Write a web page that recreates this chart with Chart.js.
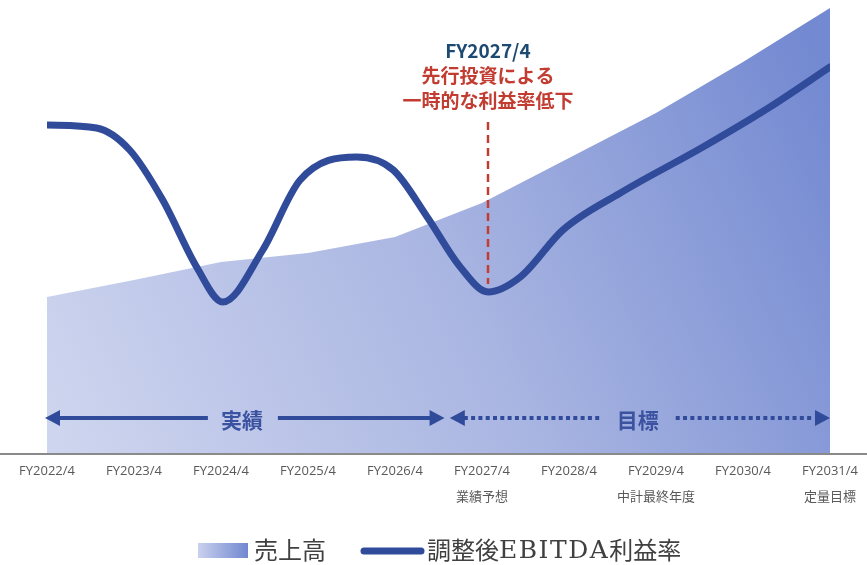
<!DOCTYPE html>
<html>
<head>
<meta charset="utf-8">
<script src="https://cdn.jsdelivr.net/npm/chart.js@4"></script>
<style>
  html, body { margin: 0; padding: 0; background: #fff; }
  #wrap { width: 867px; height: 565px; position: relative; }
</style>
</head>
<body>
<div id="wrap"><canvas id="salesChart" width="867" height="565"></canvas></div>
<script>
// カテゴリ(決算期)
const years = ["FY2022/4", "FY2023/4", "FY2024/4", "FY2025/4", "FY2026/4",
	"FY2027/4", "FY2028/4", "FY2029/4", "FY2030/4", "FY2031/4"];
const subLabels = ["", "", "", "", "", "業績予想", "", "中計最終年度", "", "定量目標"];

// 売上高 (相対値)
const salesValues = [156, 173, 191, 200, 216, 250, 295, 340, 391, 445];

// 調整後EBITDA利益率 (相対値, x = 決算期インデックス)
const marginX = [0, 0.57, 0.95, 1.33, 1.72, 2.02, 2.48, 2.91, 3.56, 3.98,
	4.37, 4.75, 5.07, 5.44, 5.93, 6.59, 7.54, 8.31, 9];
const marginValues = [328, 325, 303, 253, 186, 151, 203, 273, 296, 283,
	236, 186, 161, 176, 223, 260, 306, 346, 386];

const FONT = "'Noto Sans CJK JP', 'Noto Sans', sans-serif";
const BLUE = "#314b9b";
const RED = "#c23c31";

// 矢印を描く
function arrowHead(ctx, x, y, dir) {
	ctx.beginPath();
	ctx.moveTo(x, y);
	ctx.lineTo(x - dir * 15, y - 8);
	ctx.lineTo(x - dir * 15, y + 8);
	ctx.closePath();
	ctx.fill();
}

const decorPlugin = {
	id: "decor",
	beforeDatasetsDraw(chart) {
		const ctx = chart.ctx;
		const a = chart.chartArea;
		// 基準線
		ctx.save();
		ctx.strokeStyle = "#8a8a8a";
		ctx.lineWidth = 2;
		ctx.beginPath();
		ctx.moveTo(0, a.bottom + 1);
		ctx.lineTo(chart.width, a.bottom + 1);
		ctx.stroke();
		ctx.restore();
	},
	afterDatasetsDraw(chart) {
		const ctx = chart.ctx;
		const x = chart.scales.x;
		const px = (i) => x.getPixelForValue(i);

		ctx.save();
		// FY2027/4 の破線
		const dx = px(5) + 6;
		ctx.strokeStyle = RED;
		ctx.lineWidth = 2.5;
		ctx.setLineDash([8, 5]);
		ctx.beginPath();
		ctx.moveTo(dx, 122);
		ctx.lineTo(dx, 284);
		ctx.stroke();
		ctx.setLineDash([]);

		// 注釈テキスト
		ctx.textAlign = "center";
		ctx.textBaseline = "middle";
		ctx.font = "bold 19px " + FONT;
		ctx.fillStyle = "#1c4a72";
		ctx.fillText("FY2027/4", dx, 51);
		ctx.fillStyle = RED;
		ctx.fillText("先行投資による", dx, 76);
		ctx.fillText("一時的な利益率低下", dx, 101);

		// 実績 矢印
		const ay = 418;
		ctx.fillStyle = BLUE;
		ctx.strokeStyle = BLUE;
		ctx.lineWidth = 4;
		const l1 = px(0) - 2, r1 = px(4.57);
		const t1 = px(2.24);
		ctx.beginPath();
		ctx.moveTo(l1 + 10, ay); ctx.lineTo(t1 - 34, ay);
		ctx.moveTo(t1 + 36, ay); ctx.lineTo(r1 - 10, ay);
		ctx.stroke();
		arrowHead(ctx, l1, ay, -1);
		arrowHead(ctx, r1, ay, 1);
		ctx.font = "bold 21px " + FONT;
		ctx.fillStyle = "#3a52a0";
		ctx.fillText("実績", t1, ay + 2);

		// 目標 矢印 (点線)
		const l2 = px(4.63), r2 = px(9);
		const t2 = px(6.79);
		ctx.fillStyle = BLUE;
		const dots = (from, to) => {
			for (let p = from; p + 4 <= to; p += 7.3) {
				ctx.fillRect(p, ay - 2, 4, 4);
			}
		};
		dots(l2 + 14, t2 - 38);
		dots(t2 + 38, r2 - 14);
		arrowHead(ctx, l2, ay, -1);
		arrowHead(ctx, r2, ay, 1);
		ctx.fillStyle = "#3a52a0";
		ctx.fillText("目標", t2, ay + 2);

		// 凡例
		const ly = 550;
		const g = ctx.createLinearGradient(198, 0, 248, 0);
		g.addColorStop(0, "#c9d1ee");
		g.addColorStop(1, "#7187d0");
		ctx.fillStyle = g;
		ctx.fillRect(198, 543, 50, 15);
		ctx.textAlign = "left";
		ctx.fillStyle = "#404040";
		ctx.font = "24px " + FONT;
		ctx.fillText("売上高", 254, ly);
		ctx.strokeStyle = BLUE;
		ctx.lineWidth = 7;
		ctx.lineCap = "round";
		ctx.beginPath();
		ctx.moveTo(364, ly + 1);
		ctx.lineTo(421, ly + 1);
		ctx.stroke();
		let tx = 427;
		ctx.fillText("調整後", tx, ly);
		tx += ctx.measureText("調整後").width;
		ctx.font = "25px 'DejaVu Serif', serif";
		ctx.letterSpacing = "1.5px";
		ctx.fillText("EBITDA", tx, ly + 1);
		tx += ctx.measureText("EBITDA").width;
		ctx.letterSpacing = "0px";
		ctx.font = "24px " + FONT;
		ctx.fillText("利益率", tx, ly);
		ctx.restore();
	}
};

function areaGradient(context) {
	const chart = context.chart;
	const a = chart.chartArea;
	if (!a) return "#b7c1e6";
	const g = chart.ctx.createLinearGradient(a.left, a.bottom, a.right, a.top + 80);
	g.addColorStop(0, "#cfd6ef");
	g.addColorStop(0.5, "#aab6e2");
	g.addColorStop(1, "#7389d1");
	return g;
}

const chart = new Chart(document.getElementById("salesChart"), {
	data: {
		labels: years,
		datasets: [
			{
				type: "line",
				label: "調整後EBITDA利益率",
				xAxisID: "x2",
				data: marginX.map((v, i) => ({ x: v, y: marginValues[i] })),
				borderColor: BLUE,
				borderWidth: 7,
				borderCapStyle: "round",
				borderJoinStyle: "round",
				cubicInterpolationMode: "monotone",
				pointRadius: 0,
				fill: false,
				order: 0,
			},
			{
				type: "line",
				label: "売上高",
				data: salesValues,
				borderWidth: 0,
				borderColor: "rgba(0,0,0,0)",
				backgroundColor: areaGradient,
				pointRadius: 0,
				tension: 0,
				fill: "origin",
				order: 1,
			},
		],
	},
	options: {
		responsive: false,
		animation: false,
		layout: { padding: { left: 47, right: 37, top: 0, bottom: 50 } },
		plugins: { legend: { display: false }, tooltip: { enabled: false } },
		scales: {
			x: {
				type: "category",
				offset: false,
				grid: { display: false, drawTicks: false },
				border: { display: false },
				ticks: {
					padding: 5,
					maxRotation: 0,
					autoSkip: false,
					color: "#595959",
					font: { family: "'Open Sans', 'Noto Sans CJK JP', sans-serif", size: 13, lineHeight: 2.0 },
					callback: (v, i) => subLabels[i] ? [years[i], subLabels[i]] : years[i],
				},
			},
			x2: { type: "linear", min: 0, max: 9, display: false },
			y: { min: 0, max: 453, display: false },
		},
	},
	plugins: [decorPlugin],
});
</script>
</body>
</html>
